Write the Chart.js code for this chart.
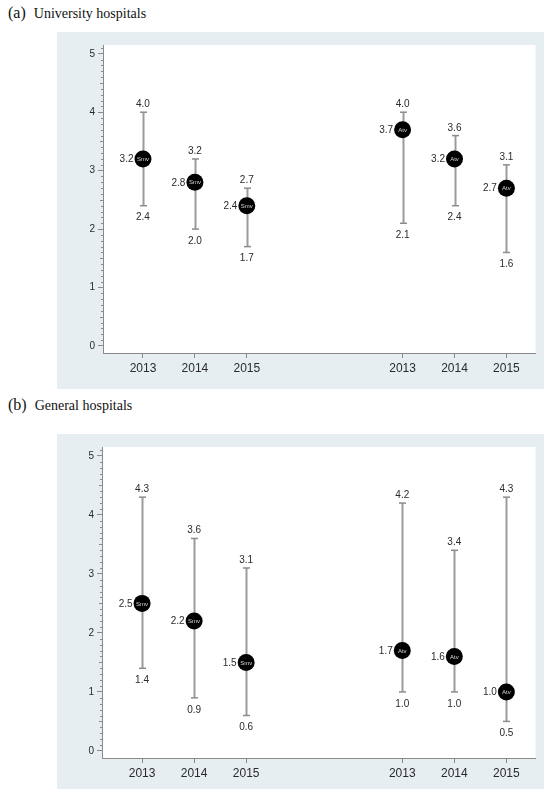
<!DOCTYPE html>
<html>
<head>
<meta charset="utf-8">
<script src="https://cdn.jsdelivr.net/npm/chart.js@4/dist/chart.umd.min.js"></script>
<style>
  html, body { margin: 0; padding: 0; background: #fff; }
  body { width: 544px; height: 789px; position: relative; overflow: hidden; }
  .title { position: absolute; left: 8px; font-family: "Liberation Serif", "Times New Roman", serif; color: #111; white-space: nowrap; }
  .title .tag { font-size: 16px; }
  .title .name { font-size: 14px; margin-left: 8px; }
  canvas { position: absolute; }
</style>
</head>
<body>
<div class="title" style="top:4px"><span class="tag">(a)</span><span class="name">University hospitals</span></div>
<div class="title" style="top:396px"><span class="tag">(b)</span><span class="name">General hospitals</span></div>
<canvas id="chartA" width="487" height="357" style="left:57px;top:32px"></canvas>
<canvas id="chartB" width="487" height="355" style="left:57px;top:434px"></canvas>
<script>
// x-axis slots: two groups of years separated by two empty slots
const slots = ['2013', '2014', '2015', '', '', '2013', '2014', '2015'];
const drugs = ['Smv', 'Atv'];
const yTicks = [0, 1, 2, 3, 4, 5];

// (a) University hospitals
const uniSmvMean = [3.2, 2.8, 2.4];
const uniSmvHigh = [4.0, 3.2, 2.7];
const uniSmvLow  = [2.4, 2.0, 1.7];
const uniAtvMean = [3.7, 3.2, 2.7];
const uniAtvHigh = [4.0, 3.6, 3.1];
const uniAtvLow  = [2.1, 2.4, 1.6];

// (b) General hospitals
const genSmvMean = [2.5, 2.2, 1.5];
const genSmvHigh = [4.3, 3.6, 3.1];
const genSmvLow  = [1.4, 0.9, 0.6];
const genAtvMean = [1.7, 1.6, 1.0];
const genAtvHigh = [4.2, 3.4, 4.3];
const genAtvLow  = [1.0, 1.0, 0.5];

const PANEL_BG = '#e7eef1';
const AXIS_COLOR = '#8a8a8a';
const TEXT_COLOR = '#2a2a2a';
const FONT = '"Liberation Sans", Arial, sans-serif';

// indices of the labelled slots; first group for Smv, second for Atv
const filledSlots = slots.map((s, i) => s ? i : -1).filter(i => i >= 0);
const groupSlots = [filledSlots.slice(0, 3), filledSlots.slice(3)];

function buildDataset(drug, slotIdx, mean, low, high) {
  return {
    label: drug,
    data: mean.map((m, i) => ({ x: slotIdx[i], y: m, low: low[i], high: high[i] })),
    pointRadius: 8.5,
    pointHoverRadius: 8.5,
    backgroundColor: '#000',
    borderWidth: 0,
    showLine: false
  };
}

const panelPlugin = {
  id: 'panel',
  beforeDraw(chart) {
    const { ctx, chartArea: a } = chart;
    ctx.save();
    ctx.fillStyle = PANEL_BG;
    ctx.fillRect(0, 0, chart.width, chart.height);
    ctx.fillStyle = '#fff';
    ctx.fillRect(a.left, a.top, a.right - a.left, a.bottom - a.top);
    ctx.restore();
  },
  afterDraw(chart) {
    // minor ticks on the y axis every 0.1
    const { ctx } = chart;
    const y = chart.scales.y;
    const x0 = chart.chartArea.left;
    ctx.save();
    ctx.strokeStyle = AXIS_COLOR;
    ctx.lineWidth = 1;
    for (let k = 0; k <= 51; k++) {
      if (k % 10 === 0) continue;
      const v = k / 10;
      if (v > y.max) break;
      const py = Math.round(y.getPixelForValue(v)) + 0.5;
      const len = (k % 5 === 0) ? 3 : 2;
      ctx.beginPath();
      ctx.moveTo(x0 - len, py);
      ctx.lineTo(x0, py);
      ctx.stroke();
    }
    ctx.restore();
  }
};

const errorBarPlugin = {
  id: 'errorBars',
  beforeDatasetsDraw(chart) {
    const { ctx } = chart;
    const xs = chart.scales.x, ys = chart.scales.y;
    ctx.save();
    chart.data.datasets.forEach(ds => {
      ds.data.forEach(d => {
        const px = Math.round(xs.getPixelForValue(d.x)) + 0.5;
        const pLow = ys.getPixelForValue(d.low);
        const pHigh = ys.getPixelForValue(d.high);
        ctx.strokeStyle = '#9b9b9b';
        ctx.lineWidth = 2;
        ctx.beginPath();
        ctx.moveTo(px, pLow);
        ctx.lineTo(px, pHigh);
        ctx.stroke();
        ctx.strokeStyle = '#8c8c8c';
        ctx.lineWidth = 1.5;
        [pLow, pHigh].forEach(py => {
          ctx.beginPath();
          ctx.moveTo(px - 3.5, py);
          ctx.lineTo(px + 3.5, py);
          ctx.stroke();
        });
      });
    });
    ctx.restore();
  },
  afterDatasetsDraw(chart) {
    const { ctx } = chart;
    const xs = chart.scales.x, ys = chart.scales.y;
    ctx.save();
    chart.data.datasets.forEach(ds => {
      ds.data.forEach(d => {
        const px = xs.getPixelForValue(d.x);
        const pm = ys.getPixelForValue(d.y);
        const pLow = ys.getPixelForValue(d.low);
        const pHigh = ys.getPixelForValue(d.high);
        // drug name inside the marker
        ctx.fillStyle = '#d8d8d8';
        ctx.font = '6px ' + FONT;
        ctx.textAlign = 'center';
        ctx.textBaseline = 'middle';
        ctx.fillText(ds.label, px, pm + 0.5);
        // value labels
        ctx.fillStyle = TEXT_COLOR;
        ctx.font = '10px ' + FONT;
        ctx.textAlign = 'right';
        ctx.fillText(d.y.toFixed(1), px - 9.5, pm + 0.5);
        ctx.textAlign = 'center';
        ctx.textBaseline = 'alphabetic';
        ctx.fillText(d.high.toFixed(1), px, pHigh - 5);
        ctx.textBaseline = 'middle';
        ctx.fillText(d.low.toFixed(1), px, pLow + 12);
      });
    });
    ctx.restore();
  }
};

function makeChart(id, smv, atv, geom) {
  return new Chart(document.getElementById(id), {
    type: 'scatter',
    data: {
      datasets: [
        buildDataset(drugs[0], groupSlots[0], smv[0], smv[1], smv[2]),
        buildDataset(drugs[1], groupSlots[1], atv[0], atv[1], atv[2])
      ]
    },
    options: {
      responsive: false,
      animation: false,
      devicePixelRatio: 1,
      events: [],
      layout: { padding: { top: 13, right: geom.right, left: 0, bottom: 0 } },
      plugins: { legend: { display: false }, tooltip: { enabled: false } },
      scales: {
        x: {
          type: 'linear',
          min: -0.77,
          max: 7.56,
          afterBuildTicks(scale) { scale.ticks = filledSlots.map(v => ({ value: v })); },
          afterFit(scale) { scale.height = geom.xHeight; },
          ticks: {
            autoSkip: false,
            maxRotation: 0,
            padding: 3,
            color: TEXT_COLOR,
            font: { family: FONT, size: 12 },
            callback: v => slots[v]
          },
          grid: { drawOnChartArea: false, drawTicks: true, tickLength: 5, color: AXIS_COLOR },
          border: { color: AXIS_COLOR, width: 1 }
        },
        y: {
          min: -0.12,
          max: 5.15,
          afterBuildTicks(scale) { scale.ticks = yTicks.map(v => ({ value: v })); },
          afterFit(scale) { scale.width = geom.yWidth; },
          ticks: {
            padding: 3,
            color: TEXT_COLOR,
            font: { family: FONT, size: 10 },
            callback: v => String(v)
          },
          grid: { drawOnChartArea: false, drawTicks: true, tickLength: 5, color: AXIS_COLOR },
          border: { color: AXIS_COLOR, width: 1 }
        }
      }
    },
    plugins: [panelPlugin, errorBarPlugin]
  });
}

makeChart('chartA',
  [uniSmvMean, uniSmvLow, uniSmvHigh],
  [uniAtvMean, uniAtvLow, uniAtvHigh],
  { right: 7, xHeight: 36, yWidth: 46 });

makeChart('chartB',
  [genSmvMean, genSmvLow, genSmvHigh],
  [genAtvMean, genAtvLow, genAtvHigh],
  { right: 5, xHeight: 31, yWidth: 45 });
</script>
</body>
</html>
